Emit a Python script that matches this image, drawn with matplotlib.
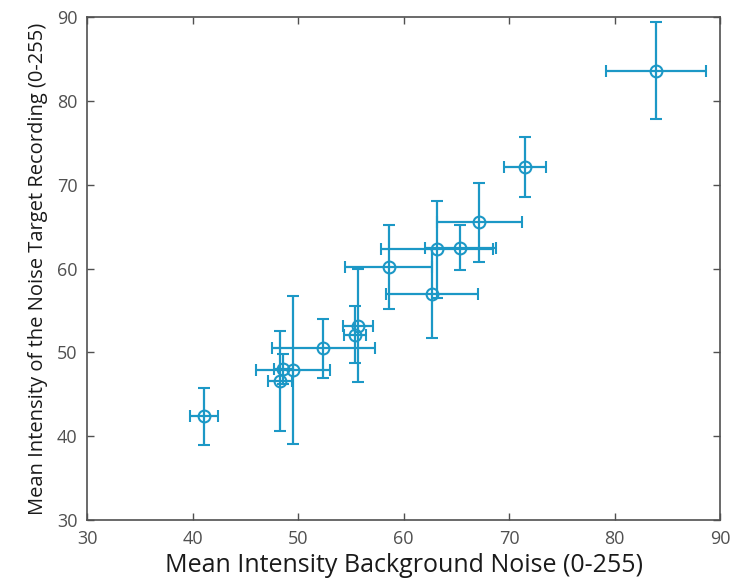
import matplotlib
matplotlib.use("Agg")
import matplotlib.pyplot as plt
import numpy as np

# mean intensities (0-255) with standard deviations
bg_mean = [41.1, 48.3, 48.6, 49.5, 52.4, 55.4, 55.7, 58.6, 62.7, 63.2, 65.4, 67.2, 71.5, 83.9]
bg_std = [1.3, 1.1, 0.9, 3.5, 4.9, 1.0, 1.4, 4.1, 4.4, 5.3, 3.4, 4.0, 2.0, 4.75]
target_mean = [42.4, 46.6, 48.0, 47.9, 50.5, 52.1, 53.2, 60.2, 57.0, 62.3, 62.5, 65.5, 72.1, 83.6]
target_std = [3.4, 6.0, 1.8, 8.8, 3.5, 3.4, 6.7, 5.0, 5.3, 5.8, 2.7, 4.7, 3.6, 5.8]

line_col = '#1c98c6'
grey = '#505050'

fig = plt.figure(figsize=(7.33, 5.88), dpi=100)
ax = fig.add_axes([0.1187, 0.1156, 0.8636, 0.8554])

ax.errorbar(bg_mean, target_mean, xerr=bg_std, yerr=target_std,
            fmt='o', mfc='none', mec=line_col, ms=8.5, mew=1.5,
            ecolor=line_col, elinewidth=1.6, capsize=4, capthick=1.6)

ax.set_xlim(30, 90)
ax.set_ylim(30, 90)
ax.set_xticks(np.arange(30, 91, 10))
ax.set_yticks(np.arange(30, 91, 10))

for s in ax.spines.values():
    s.set_color(grey)
    s.set_linewidth(1.2)
ax.tick_params(direction='in', top=True, right=True, length=5, width=1,
               color=grey, labelcolor=grey, labelsize=13, pad=7)
for lab in ax.get_xticklabels() + ax.get_yticklabels():
    lab.set_family('Open Sans')

ax.set_xlabel('Mean Intensity Background Noise (0-255)', family='Open Sans',
              fontsize=18, color='#1a1a1a', labelpad=4)
ax.set_ylabel('Mean Intensity of the Noise Target Recording (0-255)', family='Open Sans',
              fontsize=14.5, color='#1a1a1a', labelpad=6)

fig.savefig('out.png', dpi=100)
